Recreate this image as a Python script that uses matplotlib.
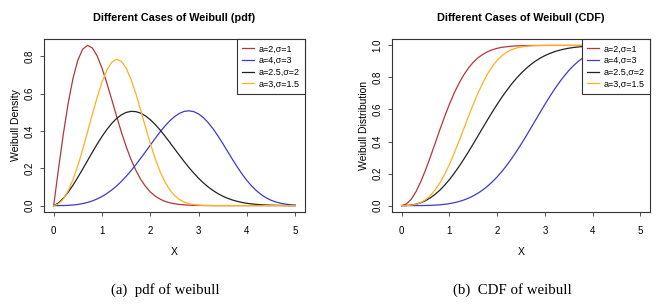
import matplotlib.pyplot as plt
import numpy as np

# x grid the curves were read on
x = [0.0, 0.1, 0.2, 0.3, 0.4, 0.5, 0.6, 0.7, 0.8, 0.9,
     1.0, 1.1, 1.2, 1.3, 1.4, 1.5, 1.6, 1.7, 1.8, 1.9,
     2.0, 2.1, 2.2, 2.3, 2.4, 2.5, 2.6, 2.7, 2.8, 2.9,
     3.0, 3.1, 3.2, 3.3, 3.4, 3.5, 3.6, 3.7, 3.8, 3.9,
     4.0, 4.1, 4.2, 4.3, 4.4, 4.5, 4.6, 4.7, 4.8, 4.9, 5.0]

labels = ['a=2,\u03c3=1', 'a=4,\u03c3=3', 'a=2.5,\u03c3=2', 'a=3,\u03c3=1.5']
colors = ['#b3363a', '#3c3cc8', '#222222', '#ffb020']

# pdf values
pdf_red = [0, 0.198, 0.384, 0.548, 0.682, 0.779, 0.837, 0.858, 0.844, 0.801,
           0.736, 0.656, 0.569, 0.480, 0.394, 0.316, 0.247, 0.189, 0.141, 0.103,
           0.073, 0.051, 0.035, 0.023, 0.015, 0.010, 0.006, 0.004, 0.002, 0.001,
           0.001, 0.0004, 0.0002, 0.0001, 0, 0, 0, 0, 0, 0,
           0, 0, 0, 0, 0, 0, 0, 0, 0, 0, 0]
pdf_blue = [0, 0.0001, 0.0004, 0.0013, 0.0032, 0.0062, 0.0107, 0.0169, 0.0252, 0.0357,
            0.0488, 0.0646, 0.0832, 0.1047, 0.1292, 0.1566, 0.1866, 0.2188, 0.2530, 0.2884,
            0.3243, 0.3597, 0.3938, 0.4253, 0.4532, 0.4764, 0.4937, 0.5044, 0.5076, 0.5030,
            0.4905, 0.4705, 0.4434, 0.4105, 0.3729, 0.3320, 0.2896, 0.2474, 0.2065, 0.1684,
            0.1340, 0.1038, 0.0787, 0.0577, 0.0411, 0.0285, 0.0191, 0.0124, 0.0078, 0.0047, 0.0028]
pdf_black = [0, 0.0140, 0.0394, 0.0720, 0.1098, 0.1514, 0.1955, 0.2407, 0.2858, 0.3294,
             0.3703, 0.4074, 0.4396, 0.4660, 0.4859, 0.4988, 0.5046, 0.5032, 0.4950, 0.4803,
             0.4598, 0.4345, 0.4054, 0.3733, 0.3393, 0.3045, 0.2697, 0.2359, 0.2036, 0.1736,
             0.1460, 0.1212, 0.0993, 0.0802, 0.0640, 0.0504, 0.0391, 0.0299, 0.0226, 0.0168,
             0.0123, 0.0089, 0.0064, 0.0045, 0.0031, 0.0021, 0.0014, 0.0009, 0.0006, 0.0004, 0.0002]
pdf_orange = [0, 0.0089, 0.0355, 0.0794, 0.1395, 0.2141, 0.3002, 0.3935, 0.4888, 0.5801,
              0.6609, 0.7251, 0.7671, 0.7834, 0.7727, 0.7358, 0.6761, 0.5992, 0.5115, 0.4204,
              0.3323, 0.2521, 0.1834, 0.1279, 0.0852, 0.0542, 0.0329, 0.0190, 0.0104, 0.0054,
              0.0027, 0.0012, 0.0005, 0, 0, 0, 0, 0, 0, 0,
              0, 0, 0, 0, 0, 0, 0, 0, 0, 0, 0]

# CDF values
cdf_red = [0, 0.010, 0.039, 0.086, 0.148, 0.221, 0.302, 0.387, 0.473, 0.555,
           0.632, 0.702, 0.763, 0.815, 0.859, 0.895, 0.923, 0.944, 0.961, 0.973,
           0.982, 0.988, 0.992, 0.995, 0.997, 0.998, 0.999, 0.9993, 0.9996, 0.9998,
           0.9999, 1, 1, 1, 1, 1, 1, 1, 1, 1,
           1, 1, 1, 1, 1, 1, 1, 1, 1, 1, 1]
cdf_blue = [0, 0, 0, 0.0001, 0.0003, 0.0008, 0.0016, 0.0030, 0.0050, 0.0081,
            0.0123, 0.0179, 0.0253, 0.0346, 0.0463, 0.0606, 0.0777, 0.0980, 0.1216, 0.1486,
            0.1792, 0.2134, 0.2511, 0.2921, 0.3361, 0.3826, 0.4312, 0.4811, 0.5318, 0.5824,
            0.6321, 0.6802, 0.7260, 0.7687, 0.8079, 0.8432, 0.8743, 0.9011, 0.9238, 0.9425,
            0.9576, 0.9695, 0.9785, 0.9853, 0.9902, 0.9937, 0.9960, 0.9976, 0.9986, 0.9992, 0.9996]
cdf_black = [0, 0.0006, 0.0032, 0.0087, 0.0177, 0.0308, 0.0481, 0.0699, 0.0962, 0.1270,
             0.1620, 0.2009, 0.2434, 0.2887, 0.3363, 0.3856, 0.4358, 0.4863, 0.5362, 0.5851,
             0.6321, 0.6769, 0.7189, 0.7579, 0.7935, 0.8257, 0.8544, 0.8797, 0.9017, 0.9205,
             0.9364, 0.9498, 0.9608, 0.9697, 0.9769, 0.9826, 0.9871, 0.9905, 0.9931, 0.9951,
             0.9965, 0.9976, 0.9983, 0.9989, 0.9992, 0.9995, 0.9997, 0.9998, 0.9999, 0.9999, 1]
cdf_orange = [0, 0.0003, 0.0024, 0.0080, 0.0188, 0.0364, 0.0620, 0.0966, 0.1408, 0.1943,
              0.2564, 0.3259, 0.4007, 0.4785, 0.5565, 0.6321, 0.7029, 0.7668, 0.8224, 0.8690,
              0.9065, 0.9357, 0.9574, 0.9728, 0.9834, 0.9902, 0.9945, 0.9971, 0.9985, 0.9993,
              0.9997, 0.9999, 0.9999, 1, 1, 1, 1, 1, 1, 1,
              1, 1, 1, 1, 1, 1, 1, 1, 1, 1, 1]

plt.rcParams['font.family'] = ['Liberation Sans Narrow', 'Liberation Sans', 'DejaVu Sans']

fig = plt.figure(figsize=(6.64, 3.05), dpi=100)
ax1 = fig.add_axes([0.0663, 0.3049, 0.3930, 0.5672])
ax2 = fig.add_axes([0.5904, 0.3049, 0.3886, 0.5672])

panels = [
    (ax1, [pdf_red, pdf_blue, pdf_black, pdf_orange], 'Different Cases of Weibull (pdf)',
     'Weibull Density', np.arange(0, 0.81, 0.2), (-0.0343, 0.892), '(a)  pdf of weibull', 0.249),
    (ax2, [cdf_red, cdf_blue, cdf_black, cdf_orange], 'Different Cases of Weibull (CDF)',
     'Weibull Distribution', np.arange(0, 1.01, 0.2), (-0.04, 1.04), '(b)  CDF of weibull', 0.771),
]

for ax, series, title, ylab, yticks, ylim, caption, cx in panels:
    for ys, c, lab in zip(series, colors, labels):
        ax.plot(x, ys, color=c, lw=0.9, label=lab)
    ax.set_xlim(-0.2, 5.2)
    ax.set_ylim(*ylim)
    ax.set_xticks([0, 1, 2, 3, 4, 5])
    ax.set_yticks(yticks)
    ax.set_yticklabels(['%.1f' % t for t in yticks], rotation=90, va='center')
    ax.tick_params(labelsize=7, length=3, width=0.7, color='#555555')
    ax.tick_params(axis='x', pad=7)
    ax.tick_params(axis='y', pad=4)
    for sp in ax.spines.values():
        sp.set_linewidth(0.8)
        sp.set_color('#333333')
    ax.set_title(title, fontsize=7.8, fontweight='bold', pad=13)
    ax.set_xlabel('X', fontsize=7.5, labelpad=8)
    ax.set_ylabel(ylab, fontsize=7.5, labelpad=2.5)
    leg = ax.legend(loc='upper right', fontsize=6.5, frameon=True, fancybox=False,
                    edgecolor='#333333', borderaxespad=0, handlelength=1.3,
                    handletextpad=0.5, labelspacing=0.3, borderpad=0.6)
    leg.get_frame().set_linewidth(0.8)
    leg.get_frame().set_alpha(1)
    fig.text(cx, 0.049, caption, ha='center', va='center', fontsize=10.7,
             family='Liberation Serif')

fig.savefig('out.png', dpi=100)
